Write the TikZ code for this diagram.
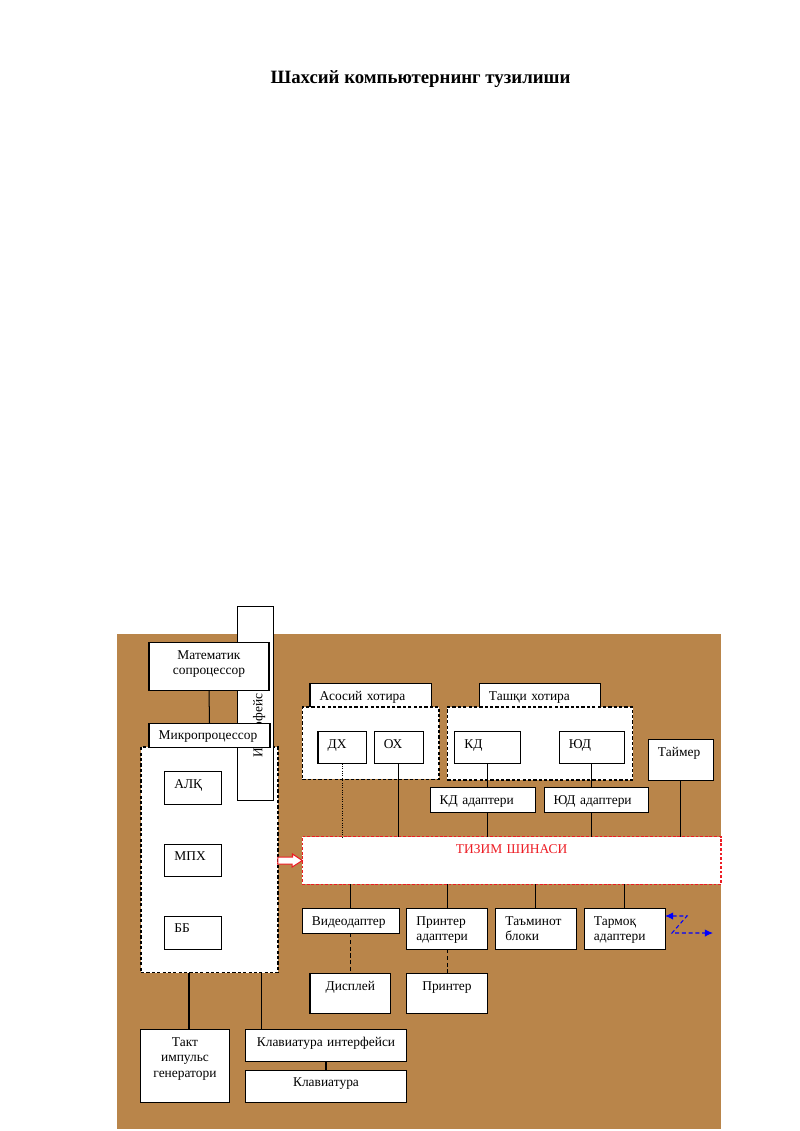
\documentclass[tikz,border=0pt]{standalone}
\usepackage{fontspec}
\setmainfont{Liberation Serif}
\usetikzlibrary{arrows.meta,calc}
\def\pxu{0.7441pt}
\definecolor{bgbrown}{RGB}{185,133,74}
\definecolor{busred}{RGB}{237,28,36}
\definecolor{netblue}{RGB}{0,0,255}
\tikzset{
  blk/.style={draw, fill=white, line width=0.75pt, inner sep=0pt, outer sep=0pt,
    anchor=north west, font=\fontsize{10}{11.5}\selectfont, align=left},
  sz/.code 2 args={%
    \pgfmathsetlengthmacro\blkw{#1*\pxu}%
    \pgfmathsetlengthmacro\blkh{#2*\pxu}%
    \pgfmathsetlengthmacro\blktw{#1*\pxu-14.4pt}%
    \pgfmathsetlengthmacro\blkd{#2*\pxu-12.5pt}%
    \edef\blkset{\noexpand\pgfkeysalso{minimum width=\blkw,minimum height=\blkh,
      text width=\blktw,text height=12.5pt,text depth=\blkd}}%
    \blkset},
  grp/.style={blk, line width=0.85pt, dash pattern=on 2.4pt off 1.6pt},
  link/.style={line width=0.75pt},
  busArrow/.style={draw=busred, fill=white, line width=0.75pt},
  netArrow/.style={draw=netblue, line width=0.8pt, dash pattern=on 3pt off 2pt,
    {Latex[length=6pt,width=5.5pt]}-{Latex[length=6pt,width=5.5pt]}, netblue},
}
\begin{document}
\begin{tikzpicture}[x=\pxu,y=-\pxu]
  \useasboundingbox (0,0) rectangle (800,1131);
  \node[font=\fontsize{14}{16}\selectfont\bfseries, anchor=base] (title) at (420.5,83.3)
    {Шахсий компьютернинг тузилиши};
  \fill[bgbrown] (117,633.5) rectangle (721,1129.3);

  \node[grp, sz={137}{225.7}] (mpBox) at (141,747) {};
  \node[blk, sz={194}{36}, rotate=90, anchor=center, text width=108*\pxu,
    text height=18.4pt, text depth=8.4pt] (iface) at (255.7,703) {Интерфейс};
  \node[blk, sz={120}{48}, align=center] (mathCop) at (149,642.7) {Математик\\сопроцессор};
  \node[blk, sz={121}{24.5}] (mproc) at (149,723) {Микропроцессор};
  \node[blk, sz={57}{32.3}] (alq) at (164.7,771.7) {АЛҚ};
  \node[blk, sz={57}{32.7}] (mpx) at (164.7,844) {МПХ};
  \node[blk, sz={57}{33}] (bb) at (164.7,916) {ББ};

  \node[blk, sz={121.7}{23.7}] (asosiy) at (310,683.3) {Асосий~хотира};
  \node[grp, sz={136.7}{72.3}] (asosiyBox) at (302.3,707) {};
  \node[blk, sz={48.7}{32.4}] (dx) at (318,731.3) {ДХ};
  \node[blk, sz={49}{32.4}] (ox) at (374.3,731.3) {ОХ};
  \node[blk, sz={120.7}{23.7}] (tashqi) at (479.3,683.3) {Ташқи~хотира};
  \node[grp, sz={185.4}{73}] (tashqiBox) at (447.3,707) {};
  \node[blk, sz={65.3}{32.4}] (kd) at (454.7,731.3) {КД};
  \node[blk, sz={65}{32.4}] (yud) at (559.3,731.3) {ЮД};
  \node[blk, sz={105.7}{24.6}] (kdAd) at (430,787.7) {КД~адаптери};
  \node[blk, sz={104.3}{24.6}] (yudAd) at (544,787.7) {ЮД~адаптери};
  \node[blk, sz={65}{40.7}] (taymer) at (648.3,739.3) {Таймер};

  \node[grp, sz={418.7}{47.6}, line width=1pt, dash pattern=on 2pt off 1.4pt,
    draw=busred, text=busred, align=center] (bus) at (302.3,836.7) {ТИЗИМ~ШИНАСИ};

  \node[blk, sz={97}{24.6}] (video) at (302.3,908.7) {Видеодаптер};
  \node[blk, sz={80.6}{40.6}] (printAd) at (406.7,908.7) {Принтер\\адаптери};
  \node[blk, sz={80.3}{40.6}] (taminot) at (495.7,908.7) {Таъминот\\блоки};
  \node[blk, sz={80.7}{40.6}] (tarmoq) at (584.3,908.7) {Тармоқ\\адаптери};
  \node[blk, sz={80.7}{40}, align=center] (displey) at (310,973.3) {Дисплей};
  \node[blk, sz={80.6}{40}, align=center] (printer) at (406.7,973.3) {Принтер};

  \node[blk, sz={88.6}{73.4}, align=center] (takt) at (140.7,1029.3) {Такт\\импульс\\генератори};
  \node[blk, sz={161.4}{32.4}, align=center] (klavInt) at (245.3,1029.3) {Клавиатура~интерфейси};
  \node[blk, sz={161.4}{32.7}, align=center] (klav) at (245.3,1070) {Клавиатура};
  \coordinate (netEnd) at (713,933);

  \draw[link] (mathCop.south) -- (mproc.north);
  \draw[link, densely dotted, line width=0.6pt] (dx.south) -- (dx.south |- bus.north);
  \draw[link] (ox.south) -- (ox.south |- bus.north);
  \draw[link] (kd.south) -- (kd.south |- kdAd.north);
  \draw[link] (kd.south |- kdAd.south) -- (kd.south |- bus.north);
  \draw[link] (yud.south) -- (yud.south |- yudAd.north);
  \draw[link] (yud.south |- yudAd.south) -- (yud.south |- bus.north);
  \draw[link] (taymer.south) -- (taymer.south |- bus.north);
  \draw[link] (video.north |- bus.south) -- (video.north);
  \draw[link] (printAd.north |- bus.south) -- (printAd.north);
  \draw[link] (taminot.north |- bus.south) -- (taminot.north);
  \draw[link] (tarmoq.north |- bus.south) -- (tarmoq.north);
  \draw[link, dash pattern=on 3pt off 2pt] (video.south) -- (displey.north -| video.south);
  \draw[link, dash pattern=on 3pt off 2pt] (printAd.south) -- (printer.north);
  \draw[link] ([xshift=4*\pxu]takt.north) -- ([xshift=4*\pxu]takt.north |- mpBox.south);
  \draw[link] ([xshift=16.4*\pxu]klavInt.north west) -- ([xshift=16.4*\pxu]klavInt.north west |- mpBox.south);
  \draw[link] (klavInt.south) -- (klav.north);
  \draw[busArrow] ($(mpBox.east |- bus.west)+(0,-3.5)$) -- ++(14.5,0) -- ++(0,-3) -- (bus.west)
    -- ++(-10.1,6.5) -- ++(0,-3) -- ++(-14.5,0) -- cycle;
  \draw[netArrow] ([yshift=-7.3*\pxu]tarmoq.north east) -- ++(22,0) -- ++(-15,17) -- (netEnd);
\end{tikzpicture}
\end{document}
